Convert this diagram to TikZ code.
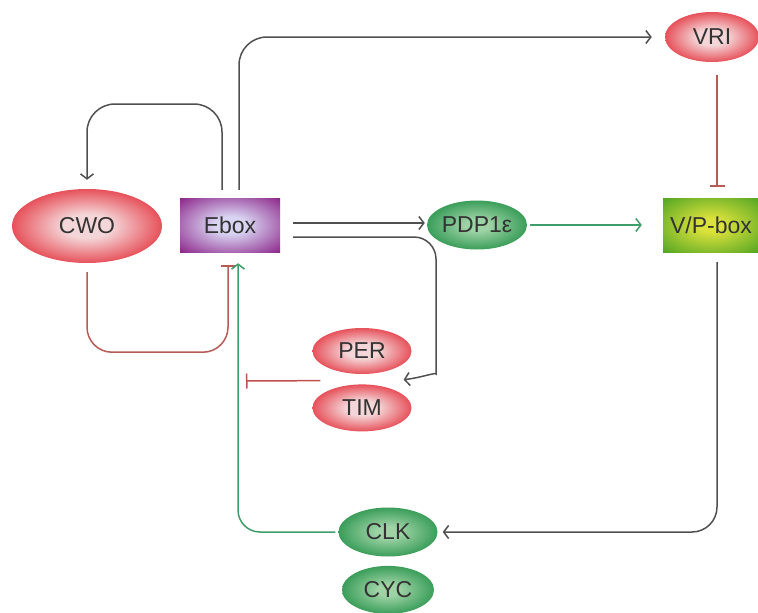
\documentclass[tikz,border=0pt]{standalone}
\usepackage{fontspec}
\setmainfont{Liberation Sans}
\usetikzlibrary{shapes.geometric}
\usetikzlibrary{arrows.meta}
\usetikzlibrary{positioning}

\definecolor{txtgray}{HTML}{333333}
\definecolor{linegray}{HTML}{505050}
\definecolor{inhred}{HTML}{B85A55}
\definecolor{actgreen}{HTML}{3E9E6A}
\definecolor{redout}{HTML}{E11B27}
\definecolor{redin}{HTML}{F4D6D8}
\definecolor{greenout}{HTML}{168A3D}
\definecolor{greenin}{HTML}{9ED3A6}
\definecolor{purpout}{HTML}{8A2287}
\definecolor{purpin}{HTML}{D8D4F2}
\definecolor{vpout}{HTML}{47A021}
\definecolor{vpin}{HTML}{DCE23C}

\pgfdeclareradialshading{redball}{\pgfpoint{0bp}{0bp}}{color(0bp)=(redin); color(8bp)=(redin); color(32bp)=(redout); color(50bp)=(redout)}
\pgfdeclareradialshading{greenball}{\pgfpoint{0bp}{0bp}}{color(0bp)=(greenin); color(6bp)=(greenin); color(32bp)=(greenout); color(50bp)=(greenout)}
\pgfdeclareradialshading{purpbox}{\pgfpoint{0bp}{0bp}}{color(0bp)=(purpin); color(8bp)=(purpin); color(36bp)=(purpout); color(50bp)=(purpout)}
\pgfdeclareradialshading{vpbox}{\pgfpoint{0bp}{0bp}}{color(0bp)=(vpin); color(6bp)=(vpin); color(38bp)=(vpout); color(50bp)=(vpout)}

\tikzset{
  gene/.style={ellipse, inner sep=0pt, text=txtgray, font=\fontsize{23}{24}\selectfont},
  redgene/.style={gene, shade, shading=redball},
  greengene/.style={gene, shade, shading=greenball},
  promoter/.style={rectangle, inner sep=0pt, text=txtgray, font=\fontsize{23}{24}\selectfont},
  act/.style={->, line width=1.5pt, draw=linegray},
  inh/.style={-{Bar[width=15pt]}, line width=1.5pt, draw=inhred}
}

\begin{document}
\begin{tikzpicture}[x=1pt, y=-1pt, >={Straight Barb[length=5pt,width=13pt]}]
        \useasboundingbox (0,0) rectangle (758,613);
        \node [redgene, minimum width=150pt, minimum height=74pt] (cwo) at (87,226) {CWO};
        \node [promoter, shade, shading=purpbox, minimum width=100pt, minimum height=54pt] (ebox) at (230,225) {Ebox};
        \node [greengene, minimum width=100pt, minimum height=49pt] (pdp) at (477,225) {PDP1ε};
        \node [promoter, shade, shading=vpbox, minimum width=96pt, minimum height=54pt] (vpbox) at (711,225) {V/P-box};
        \node [redgene, minimum width=94pt, minimum height=50pt] (vri) at (712,37) {VRI};
        \node [redgene, minimum width=99pt, minimum height=46pt] (per) at (362,351) {PER};
        \node [redgene, below=10pt of per, minimum width=99pt, minimum height=47pt] (tim) {TIM};
        \node [greengene, minimum width=99pt, minimum height=49pt] (clk) at (388,532) {CLK};
        \node [greengene, below=9pt of clk, minimum width=92pt, minimum height=48pt] (cyc) {CYC};
        \coordinate (clkbar) at (246,381);

        \draw [act, rounded corners=28pt, shorten <=8pt, shorten >=13pt] ([xshift=9pt]ebox.north) |- (vri);
        \draw [act, rounded corners=28pt, shorten <=8pt, shorten >=9pt] ([xshift=-8pt]ebox.north) |- (87,104) -- (cwo.north);
        \draw [inh, rounded corners=25pt, shorten <=9pt, shorten >=13pt] (cwo.south) -- ++(0,89) -| ([xshift=-2pt]ebox.south);
        \draw [act, draw=actgreen, rounded corners=22pt, shorten <=3pt, shorten >=11pt] (clk.west) -| ([xshift=8pt]ebox.south);
        \draw [act, shorten <=13pt, shorten >=2pt] ([yshift=2pt]ebox.east) -- ([yshift=2pt]pdp.west);
        \draw [act, rounded corners=22pt, shorten <=13pt] ([yshift=-12pt]ebox.east) -| (436,352) .. controls (436,372) and (420,378) .. ([shift={(10pt,10pt)}]tim.30);
        \draw [act, draw=actgreen, shorten <=3pt, shorten >=21pt] (pdp.east) -- (vpbox.west);
        \draw [inh, shorten <=13pt, shorten >=11pt] ([xshift=5pt]vri.south) -- ([xshift=6pt]vpbox.north);
        \draw [act, rounded corners=25pt, shorten <=10pt, shorten >=5pt] ([xshift=6pt]vpbox.south) |- (clk.east);
        \draw [inh, draw=inhred!90!red] ([shift={(-10pt,9pt)}]tim.150) -- (clkbar);
    \end{tikzpicture}
\end{document}
